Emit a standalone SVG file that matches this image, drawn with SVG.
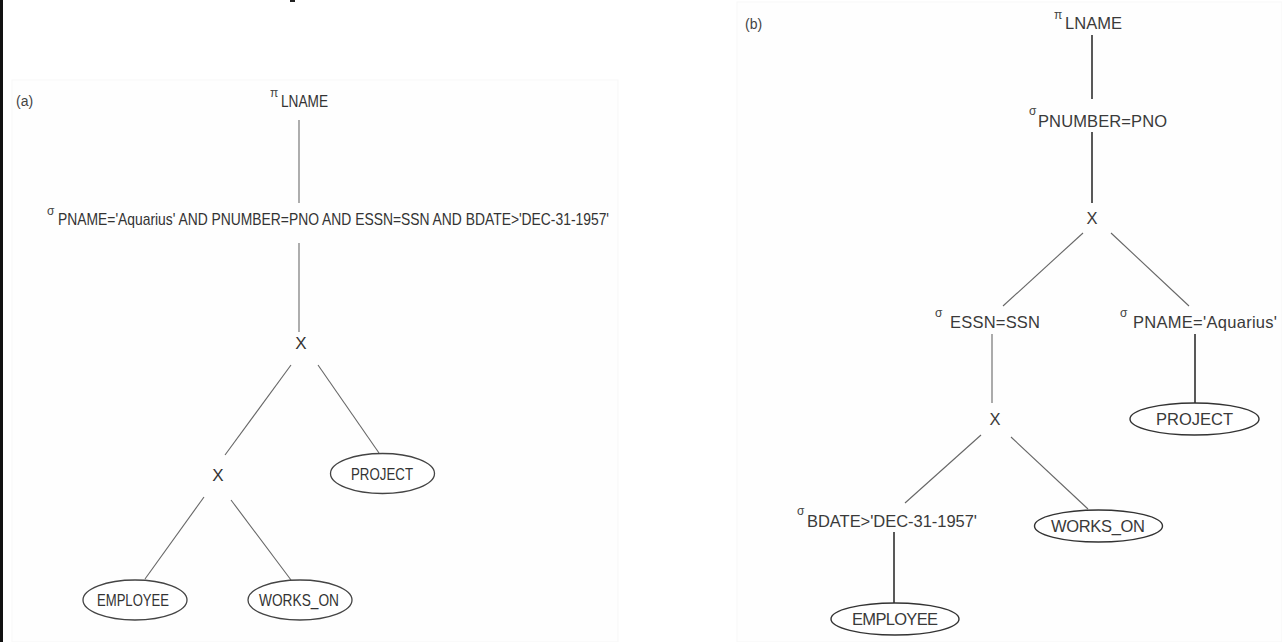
<svg xmlns="http://www.w3.org/2000/svg" width="1282" height="642" viewBox="0 0 1282 642">
<style>
text{font-family:"Liberation Sans",Arial,sans-serif;fill:#333}
.a{font-size:17px}
.b{font-size:16.5px;fill:#3a3a3a}
.sym{font-size:12px;fill:#444}
.lbl{font-size:14px;fill:#444}
.ea{fill:#fff;stroke:#444;stroke-width:1.3}
.eb{fill:#fff;stroke:#333;stroke-width:1.4}
.ca{stroke:#777;stroke-width:1.2;fill:none}
.cb{stroke:#222;stroke-width:1.5;fill:none}
.cd{stroke:#666;stroke-width:1.1;fill:none}
</style>
<rect width="1282" height="642" fill="#fff"/>
<rect x="12" y="80" width="606" height="562" fill="#fefefe" stroke="#f7f7f7"/>
<rect x="737" y="2" width="545" height="640" fill="#fefefe" stroke="#f7f7f7"/>
<rect x="0" y="0" width="3" height="642" fill="#111"/>
<rect x="290" y="0" width="5" height="2" fill="#222"/>

<g id="connectors">
<line class="ca" x1="299" y1="120" x2="299" y2="203"/>
<line class="ca" x1="299" y1="243" x2="299" y2="332"/>
<line class="cd" x1="291" y1="365" x2="225" y2="455"/>
<line class="cd" x1="318" y1="365" x2="379" y2="453"/>
<line class="cd" x1="204" y1="497" x2="145" y2="579"/>
<line class="cd" x1="231" y1="500" x2="291" y2="580"/>
<line class="cb" x1="1092" y1="35" x2="1092" y2="99"/>
<line class="cb" x1="1092" y1="132" x2="1092" y2="203"/>
<line class="cd" x1="1083" y1="233" x2="1003" y2="306"/>
<line class="cd" x1="1111" y1="233" x2="1189" y2="306"/>
<line class="cd" x1="992" y1="334" x2="992" y2="403"/>
<line class="cb" x1="1195" y1="334" x2="1195" y2="403"/>
<line class="cd" x1="981" y1="435" x2="905" y2="503"/>
<line class="cd" x1="1011" y1="437" x2="1088" y2="509"/>
<line class="cb" x1="894" y1="532" x2="894" y2="603"/>
</g>

<g id="label-a"><text class="lbl" x="16" y="106">(a)</text></g>
<g id="label-b"><text class="lbl" x="745" y="29">(b)</text></g>

<g id="a-project-lname">
<text class="sym" x="270" y="97">π</text>
<text class="a" x="281" y="107" textLength="47" lengthAdjust="spacingAndGlyphs">LNAME</text>
</g>
<g id="a-select">
<text class="sym" x="47" y="215">σ</text>
<text class="a" x="58" y="225" textLength="551" lengthAdjust="spacingAndGlyphs">PNAME='Aquarius' AND PNUMBER=PNO AND ESSN=SSN AND BDATE&gt;'DEC-31-1957'</text>
</g>
<g id="a-cross1"><text class="a" x="301" y="349" text-anchor="middle" font-size="15">X</text></g>
<g id="a-cross2"><text class="a" x="218" y="481" text-anchor="middle" font-size="15">X</text></g>
<g id="a-project">
<ellipse class="ea" cx="382.5" cy="473.5" rx="52" ry="20"/>
<text class="a" x="351" y="480" font-size="16" textLength="62" lengthAdjust="spacingAndGlyphs">PROJECT</text>
</g>
<g id="a-employee">
<ellipse class="ea" cx="135" cy="600" rx="52" ry="20"/>
<text class="a" x="97" y="606" font-size="16" textLength="72" lengthAdjust="spacingAndGlyphs">EMPLOYEE</text>
</g>
<g id="a-works-on">
<ellipse class="ea" cx="300" cy="600" rx="52" ry="20"/>
<text class="a" x="259" y="606" font-size="16" textLength="80" lengthAdjust="spacingAndGlyphs">WORKS_ON</text>
</g>

<g id="b-project-lname">
<text class="sym" x="1054" y="19">π</text>
<text class="b" x="1065" y="29" textLength="57">LNAME</text>
</g>
<g id="b-select-pnumber">
<text class="sym" x="1029" y="115">σ</text>
<text class="b" x="1038" y="127" textLength="129">PNUMBER=PNO</text>
</g>
<g id="b-cross1"><text class="b" x="1092" y="224" text-anchor="middle">X</text></g>
<g id="b-select-essn">
<text class="sym" x="935" y="317">σ</text>
<text class="b" x="950" y="328" textLength="90">ESSN=SSN</text>
</g>
<g id="b-select-pname">
<text class="sym" x="1120" y="317">σ</text>
<text class="b" x="1133" y="328" textLength="144">PNAME='Aquarius'</text>
</g>
<g id="b-cross2"><text class="b" x="995" y="425" text-anchor="middle">X</text></g>
<g id="b-project">
<ellipse class="eb" cx="1194.5" cy="419" rx="64.5" ry="16"/>
<text class="b" x="1156" y="425" textLength="77">PROJECT</text>
</g>
<g id="b-select-bdate">
<text class="sym" x="797" y="515">σ</text>
<text class="b" x="807" y="527" textLength="170">BDATE&gt;'DEC-31-1957'</text>
</g>
<g id="b-works-on">
<ellipse class="eb" cx="1098.5" cy="526" rx="64" ry="16"/>
<text class="b" x="1051" y="532" textLength="94">WORKS_ON</text>
</g>
<g id="b-employee">
<ellipse class="eb" cx="895" cy="619" rx="64" ry="16"/>
<text class="b" x="852" y="625" textLength="86">EMPLOYEE</text>
</g>
</svg>
